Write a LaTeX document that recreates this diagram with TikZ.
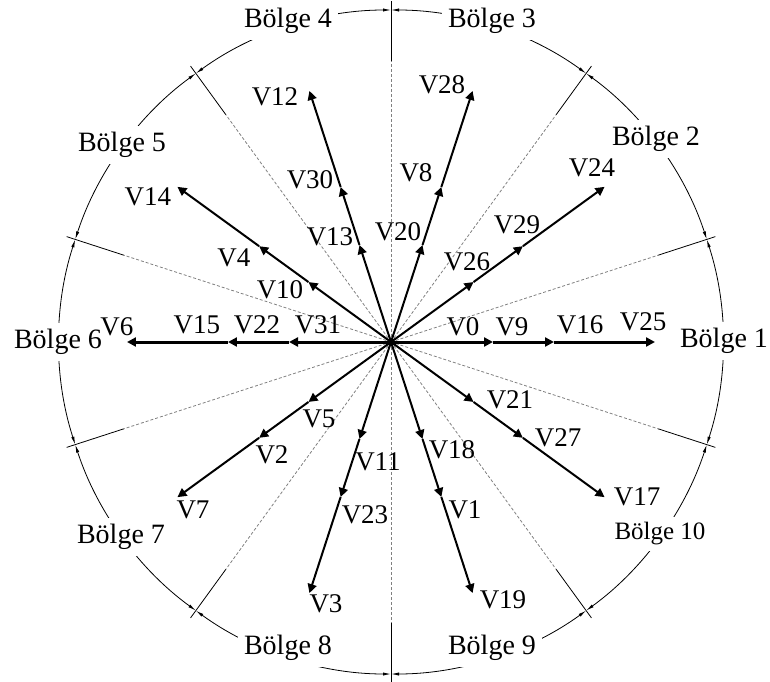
\documentclass[tikz,border=0pt]{standalone}
\usepackage{fontspec}
\setmainfont{Liberation Serif}
\usetikzlibrary{arrows.meta, positioning, calc}

\begin{document}
\begin{tikzpicture}[x=0.5pt, y=0.5pt,
    vec/.style={-{Triangle[length=4.5pt, width=4.5pt]}, line width=1pt},
    hvec/.style={vec, line width=1.5pt},
    lbl/.style={inner sep=0pt, font=\fontsize{13.5}{15}\selectfont},
    zone/.style={fill=white, inner sep=3pt, font=\fontsize{14}{16}\selectfont},
    sep/.style={gray, line width=0.4pt, dash pattern=on 1.5pt off 1pt},
    rim/.style={line width=0.4pt}]

\useasboundingbox (-391,-339) rectangle (379,342);
\coordinate (O) at (0,0);

\foreach \a in {18,54,...,342} {
  \coordinate (s\a) at (\a:281);
  \coordinate (t\a) at (\a:341);
  \draw[sep] (O) -- (s\a);
  \draw[rim] (s\a) -- (t\a);
  \draw[rim, {Latex[length=4pt, width=1.6pt]}-{Latex[length=4pt, width=1.6pt]}]
    (\a:332) arc[start angle=\a, end angle=\a+36, radius=332];
}

\foreach \a in {0,36,...,324} {
  \coordinate (p\a-1) at (\a:102);
  \coordinate (p\a-2) at (\a:163);
  \coordinate (p\a-3) at (\a:264);
}

\foreach \a in {0,180} {
  \draw[hvec] (O) -- (p\a-1);
  \draw[hvec] (p\a-1) -- (p\a-2);
  \draw[hvec] (p\a-2) -- (p\a-3);
}
\foreach \a in {36,72,108,144,216,252,288,324} {
  \draw[vec] (O) -- (p\a-1);
  \draw[vec] (p\a-1) -- (p\a-2);
  \draw[vec] (p\a-2) -- (p\a-3);
}

\node[zone] (b1) at (333,1) {Bölge 1};
\node[zone] (b2) at (265,203) {Bölge 2};
\node[zone] (b3) at (101,321) {Bölge 3};
\node[zone] (b4) at (-103,321) {Bölge 4};
\node[zone] (b5) at (-269,197) {Bölge 5};
\node[zone] (b6) at (-333,0) {Bölge 6};
\node[zone] (b7) at (-270,-195) {Bölge 7};
\node[zone] (b8) at (-103,-306) {Bölge 8};
\node[zone] (b9) at (101,-306) {Bölge 9};
\node[zone, font=\fontsize{12.5}{14}\selectfont] (b10) at (269,-192) {Bölge 10};

\node[lbl] (v0) at (72,15) {V0};
\node[lbl] (v9) at (121,15) {V9};
\node[lbl] (v16) at (189,17) {V16};
\node[lbl] (v25) at (252,20) {V25};
\node[lbl] (v31) at (-73,17) {V31};
\node[lbl] (v22) at (-134,17) {V22};
\node[lbl] (v15) at (-194,17) {V15};
\node[lbl] (v6) at (-274,15) {V6};

\node[lbl] (v26) at (76,80) {V26};
\node[lbl] (v29) at (126,117) {V29};
\node[lbl] (v24) at (201,174) {V24};
\node[lbl] (v20) at (7,110) {V20};
\node[lbl] (v8) at (25,169) {V8};
\node[lbl] (v28) at (51,257) {V28};
\node[lbl] (v13) at (-61,105) {V13};
\node[lbl] (v30) at (-81,162) {V30};
\node[lbl] (v12) at (-116,245) {V12};
\node[lbl] (v10) at (-111,52) {V10};
\node[lbl] (v4) at (-157,84) {V4};
\node[lbl] (v14) at (-243,145) {V14};

\node[lbl] (v5) at (-72,-77) {V5};
\node[lbl] (v2) at (-119,-113) {V2};
\node[lbl] (v7) at (-198,-168) {V7};
\node[lbl] (v11) at (-13,-120) {V11};
\node[lbl] (v23) at (-26,-173) {V23};
\node[lbl] (v3) at (-65,-262) {V3};
\node[lbl] (v18) at (61,-108) {V18};
\node[lbl] (v1) at (74,-168) {V1};
\node[lbl] (v19) at (112,-258) {V19};
\node[lbl] (v21) at (119,-58) {V21};
\node[lbl] (v27) at (167,-96) {V27};
\node[lbl] (v17) at (246,-155) {V17};

\end{tikzpicture}
\end{document}
